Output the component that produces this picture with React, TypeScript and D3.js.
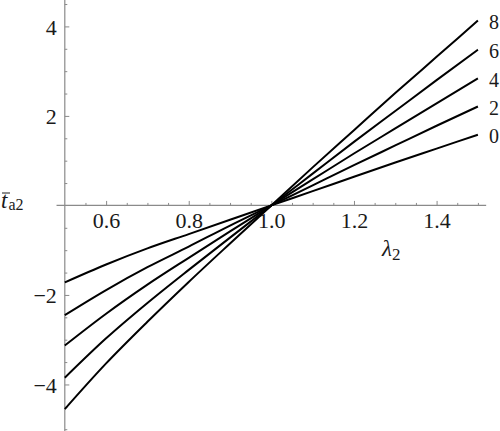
import { useEffect, useRef } from "react";
import * as d3 from "d3";

// values
const lambda2 = [0.5, 0.6, 0.7, 0.8, 0.9, 1.0, 1.1, 1.2, 1.3, 1.4, 1.5];
const curve0 = [-1.72, -1.32, -0.96, -0.64, -0.32, 0, 0.32, 0.64, 0.96, 1.27, 1.58];
const curve2 = [-2.45, -1.89, -1.38, -0.92, -0.45, 0, 0.45, 0.9, 1.34, 1.78, 2.21];
const curve4 = [-3.13, -2.42, -1.77, -1.17, -0.58, 0, 0.58, 1.16, 1.72, 2.28, 2.84];
const curve6 = [-3.85, -2.97, -2.18, -1.44, -0.72, 0, 0.71, 1.42, 2.11, 2.8, 3.48];
const curve8 = [-4.55, -3.53, -2.6, -1.71, -0.85, 0, 0.85, 1.68, 2.51, 3.32, 4.13];
const curveLabels = ["0", "2", "4", "6", "8"];

const xTicks = [0.6, 0.8, 1.0, 1.2, 1.4];
const xTickLabels = ["0.6", "0.8", "1.0", "1.2", "1.4"];
const xMinorTicks = [0.55, 0.65, 0.7, 0.75, 0.85, 0.9, 0.95, 1.05, 1.1, 1.15, 1.25, 1.3, 1.35, 1.45, 1.5];
const yTicks = [-4, -2, 2, 4];
const yTickLabels = ["\u22124", "\u22122", "2", "4"];
const yMinorTicks = [-5, -4.5, -3.5, -3, -2.5, -1.5, -1, -0.5, 0.5, 1, 1.5, 2.5, 3, 3.5, 4.5];

const width = 500;
const height = 431;
const serif = '"Liberation Serif", "Times New Roman", Times, serif';
const axisColor = "#8a8a8a";
const textColor = "#1a1a1a";

const App = () => {
  const chartRef = useRef<SVGSVGElement>(null);

  useEffect(() => {
    const svg = d3.select(chartRef.current);
    svg.selectAll("*").remove();

    const x = d3.scaleLinear().domain([0.5, 1.5]).range([64.8, 477.9]);
    const y = d3.scaleLinear().domain([-5.04, 4.59]).range([height, 0]);

    // eixos
    svg
      .append("line")
      .attr("x1", x(0.48))
      .attr("x2", x(1.52))
      .attr("y1", y(0))
      .attr("y2", y(0))
      .attr("stroke", axisColor)
      .attr("stroke-width", 1.2);
    svg
      .append("line")
      .attr("x1", x(0.5))
      .attr("x2", x(0.5))
      .attr("y1", 0)
      .attr("y2", height)
      .attr("stroke", axisColor)
      .attr("stroke-width", 1.2);

    const styleAxis = (g: d3.Selection<SVGGElement, unknown, null, undefined>) => {
      g.attr("font-family", null).attr("font-size", null);
      g.select(".domain").remove();
      g.selectAll(".tick line").attr("stroke", axisColor).attr("stroke-width", 1);
      g.selectAll(".tick text")
        .attr("fill", textColor)
        .style("font-family", serif)
        .style("font-size", "22px");
    };

    svg
      .append("g")
      .attr("transform", `translate(0,${y(0)})`)
      .call(
        d3
          .axisBottom(x)
          .tickValues(xTicks)
          .tickFormat((_, i) => xTickLabels[i])
          .tickSizeInner(-4.5)
          .tickSizeOuter(0)
          .tickPadding(7)
      )
      .call(styleAxis);

    svg
      .append("g")
      .attr("transform", `translate(0,${y(0)})`)
      .call(
        d3
          .axisBottom(x)
          .tickValues(xMinorTicks)
          .tickFormat(() => "")
          .tickSizeInner(-2.5)
          .tickSizeOuter(0)
      )
      .call(styleAxis);

    svg
      .append("g")
      .attr("transform", `translate(${x(0.5)},0)`)
      .call(
        d3
          .axisLeft(y)
          .tickValues(yTicks)
          .tickFormat((_, i) => yTickLabels[i])
          .tickSizeInner(-4.5)
          .tickSizeOuter(0)
          .tickPadding(8)
      )
      .call(styleAxis)
      .call((g) => g.selectAll(".tick text").attr("dy", "0.36em"));

    svg
      .append("g")
      .attr("transform", `translate(${x(0.5)},0)`)
      .call(
        d3
          .axisLeft(y)
          .tickValues(yMinorTicks)
          .tickFormat(() => "")
          .tickSizeInner(-2.5)
          .tickSizeOuter(0)
      )
      .call(styleAxis);

    // curvas
    const series = [curve0, curve2, curve4, curve6, curve8];
    const line = d3
      .line<number>()
      .x((_, i) => x(lambda2[i]))
      .y((d) => y(d))
      .curve(d3.curveMonotoneX);

    svg
      .selectAll("path.curve")
      .data(series)
      .enter()
      .append("path")
      .attr("class", "curve")
      .attr("fill", "none")
      .attr("stroke", "#000")
      .attr("stroke-width", 2)
      .attr("d", (d) => line(d));

    svg
      .selectAll("text.curve-label")
      .data(series)
      .enter()
      .append("text")
      .attr("class", "curve-label")
      .attr("x", 489)
      .attr("y", (d) => y(d[d.length - 1]) + 8.5)
      .style("font-family", serif)
      .style("font-size", "20px")
      .attr("fill", textColor)
      .text((_, i) => curveLabels[i]);

    // rótulo do eixo x
    const xLabel = svg
      .append("text")
      .attr("x", 382)
      .attr("y", 256)
      .style("font-family", serif)
      .attr("fill", textColor);
    xLabel.append("tspan").style("font-size", "23px").style("font-style", "italic").text("\u03bb");
    xLabel.append("tspan").style("font-size", "17px").attr("dy", 4).text("2");

    // rótulo do eixo y
    const yLabel = svg
      .append("text")
      .attr("x", 1)
      .attr("y", 208)
      .style("font-family", serif)
      .attr("fill", textColor);
    yLabel.append("tspan").style("font-size", "23px").style("font-style", "italic").text("t");
    yLabel.append("tspan").style("font-size", "16px").attr("dx", 1).attr("dy", 2).text("a2");
    svg
      .append("line")
      .attr("x1", 2)
      .attr("x2", 10)
      .attr("y1", 193)
      .attr("y2", 193)
      .attr("stroke", textColor)
      .attr("stroke-width", 1);
  }, []);

  return (
    <svg
      ref={chartRef}
      width={width}
      height={height}
      style={{ position: "absolute", left: 0, top: 0, background: "#fff" }}
    />
  );
};

export default App;
